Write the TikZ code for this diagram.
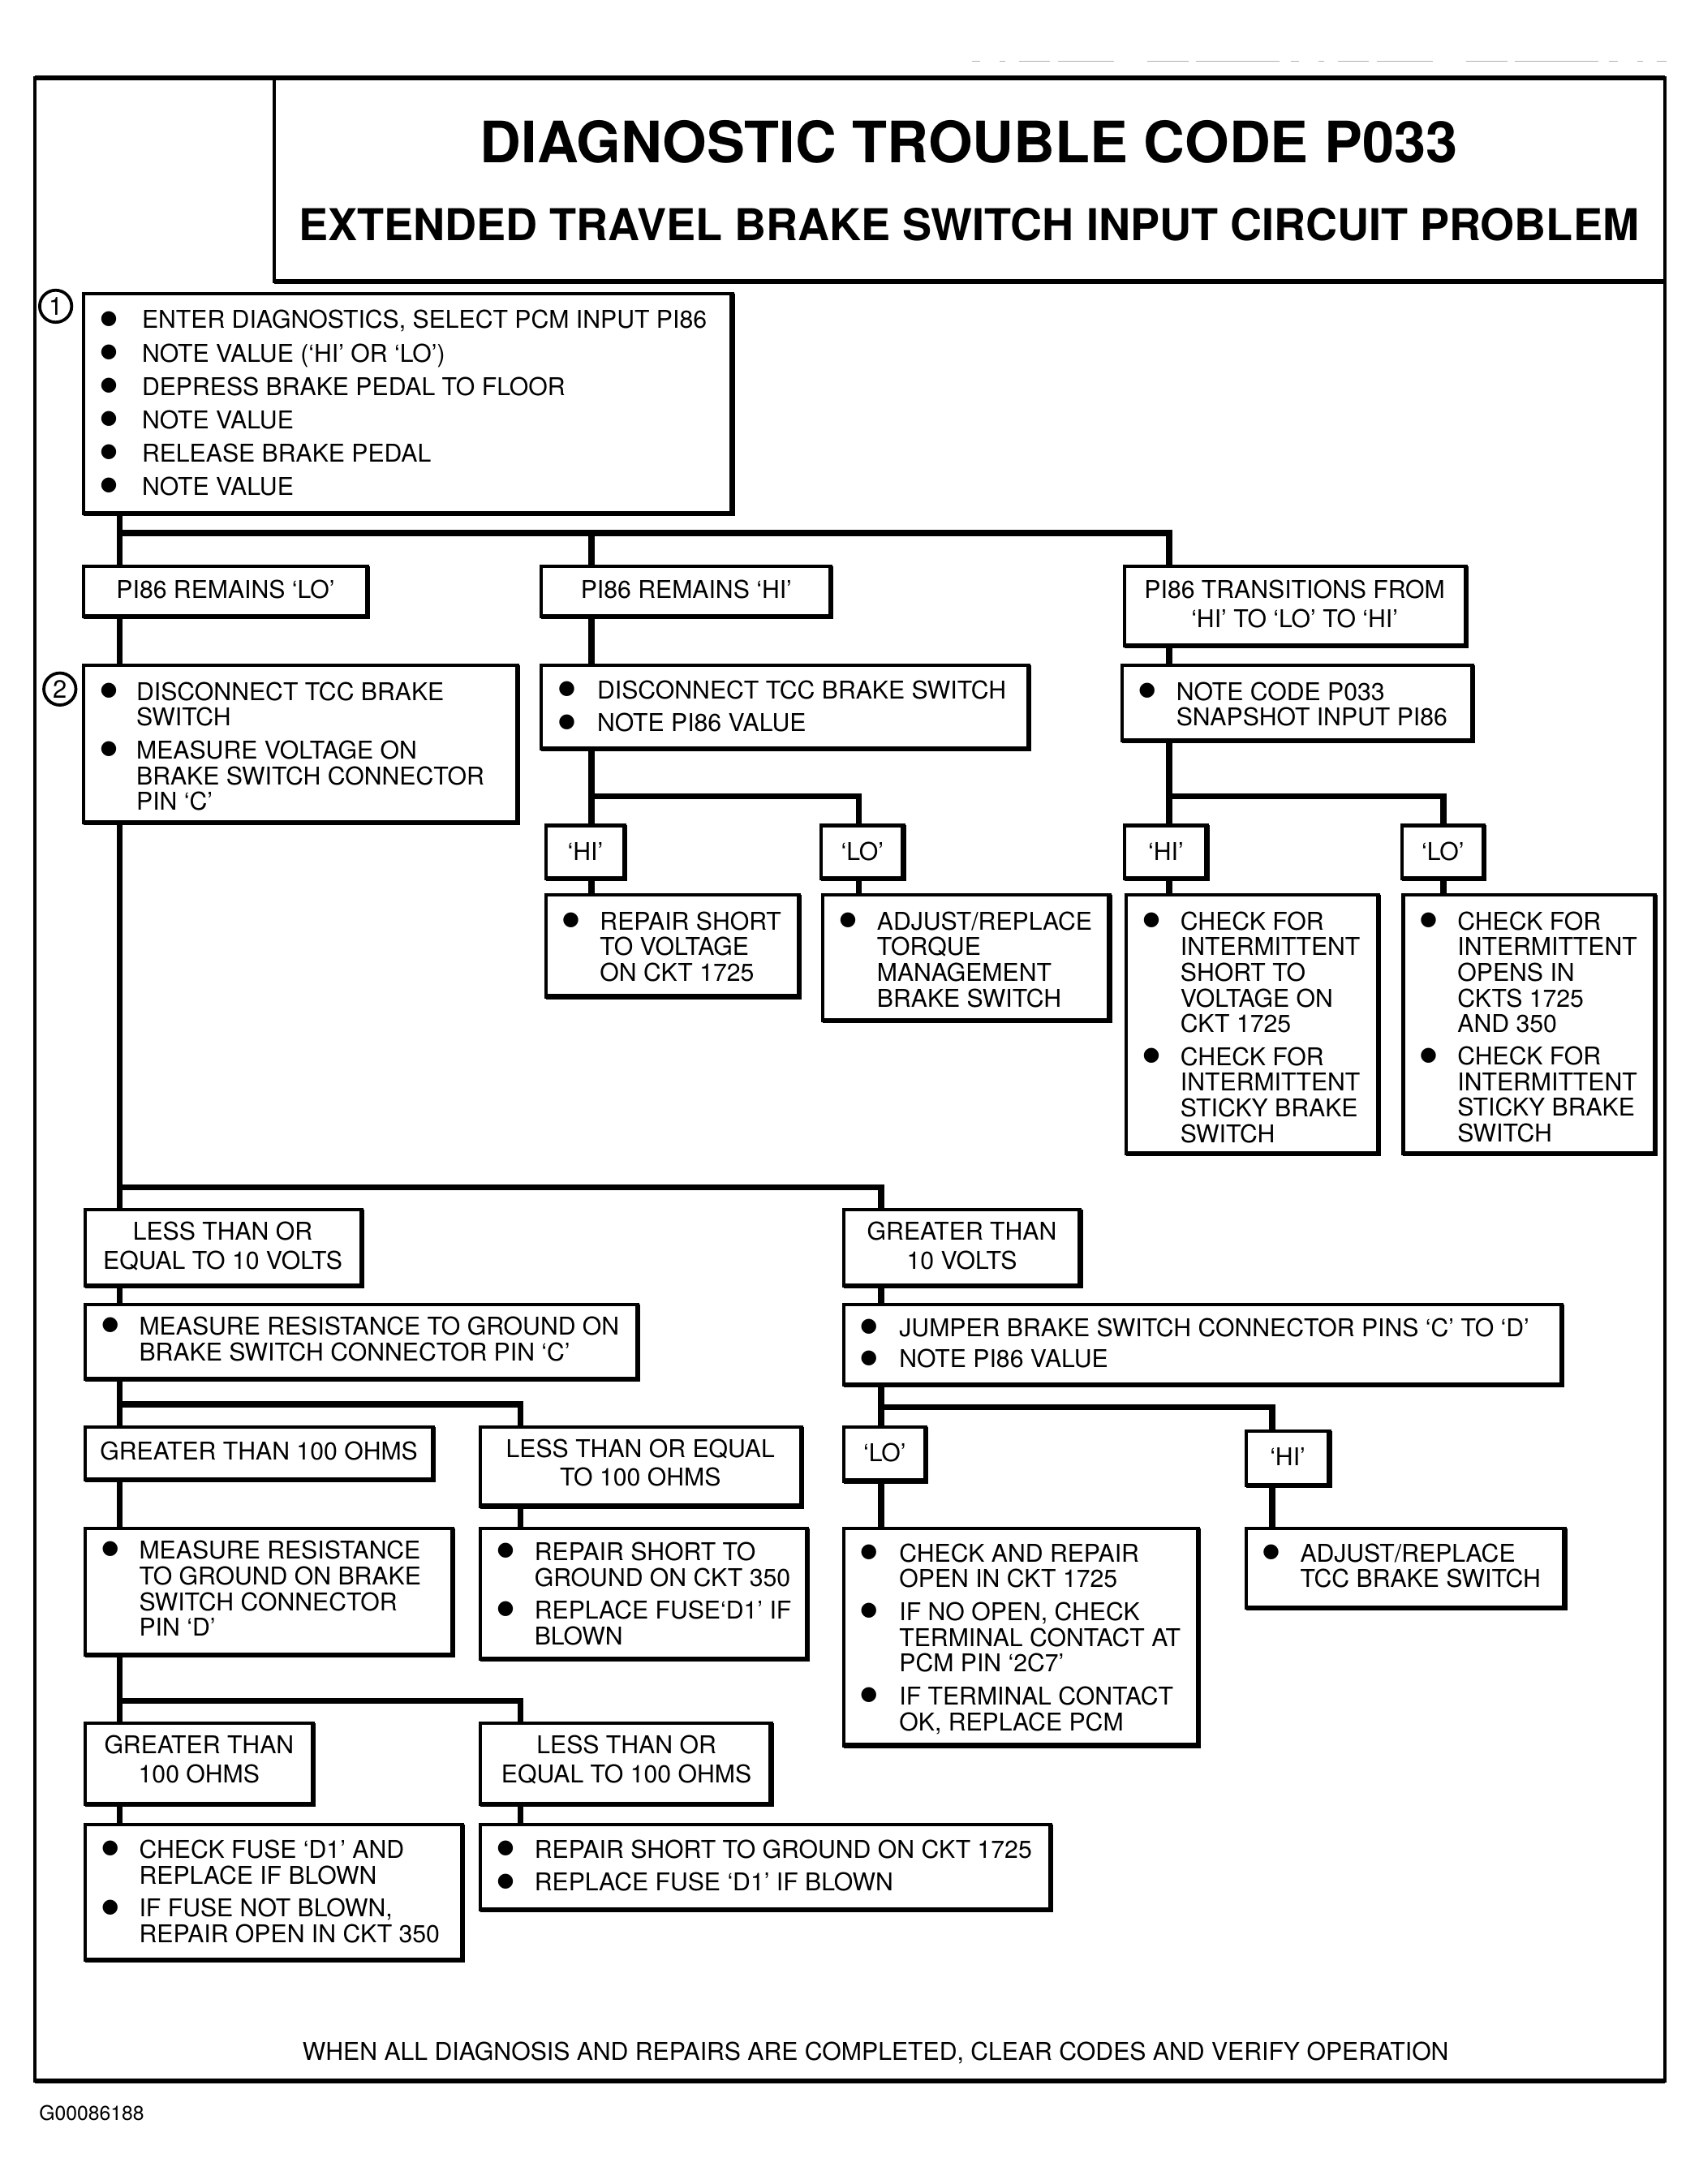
\documentclass[tikz,border=0pt]{standalone}
\usepackage{fontspec}
\setmainfont{TeX Gyre Heros}
\newfontfamily\symfont{DejaVu Sans}
\usepackage{array}
\tikzset{
  box/.style={draw, rectangle, line width=2.4pt, inner sep=0pt, outer sep=0pt, fill=white},
  shadowln/.style={line width=3.6pt, line join=miter},
  conn/.style={line width=4.4pt, line join=miter},
  txt/.style={inner sep=0pt, outer sep=0pt, font=\fontsize{17.6}{18}\selectfont},
  numcirc/.style={circle, draw, line width=2.2pt, minimum size=23pt, inner sep=0pt, font=\fontsize{18}{18}\selectfont},
}
\newcommand{\bx}[5]{%
  \node[box, minimum width={#4-#2}, minimum height={#5-#3}, anchor=north west] (#1) at (#2,#3) {};
  \draw[shadowln] (#1.north east) -- (#1.south east) -- (#1.south west);
}
\newcommand{\bt}[5]{%
  \node[txt, anchor=base west] (#1) at (#2,#3) {\begin{tabular}[t]{@{}p{#4pt}@{}l@{}}#5\end{tabular}};
}
\newcommand{\lb}[4]{%
  \node[txt, anchor=base] (#1) at (#2,#3) {\begin{tabular}[t]{@{}c@{}}#4\end{tabular}};
}
\newcommand{\bu}{\raisebox{3.3pt}{\symfont\fontsize{14}{14}\selectfont ●}}
\begin{document}
\begin{tikzpicture}[x=1pt,y=-1pt]
\useasboundingbox (0,0) rectangle (1220,1569);

% scan line above frame
\draw[gray!60, line width=1pt, dash pattern=on 6pt off 14pt on 4pt off 10pt on 22pt off 6pt on 40pt off 24pt on 30pt off 5pt on 60pt off 8pt]
  (698,44) -- (1197,44);

% outer frame and title box
\node[draw, rectangle, line width=2.4pt, inner sep=0pt, outer sep=0pt, minimum width=1171, minimum height=1439, anchor=north west] (frame) at (25,56) {};
\draw[line width=3.6pt] (frame.north west) -- (frame.north east);
\draw[line width=3.6pt] (frame.south west) -- (frame.south east);
\node[draw, rectangle, line width=2.4pt, inner sep=0pt, outer sep=0pt, minimum width=999, minimum height=146, anchor=north west] (titlebox) at (197,56) {};
\draw[line width=3.4pt] (titlebox.south west) -- (titlebox.south east);
\node[inner sep=0pt, anchor=base, font=\bfseries\fontsize{41}{41}\selectfont] (title) at (696,117) {DIAGNOSTIC TROUBLE CODE P033};
\node[inner sep=0pt, anchor=base, font=\bfseries\fontsize{31.5}{31.5}\selectfont] (subtitle) at (696,173) {EXTENDED TRAVEL BRAKE SWITCH INPUT CIRCUIT PROBLEM};

% junction coordinates
\coordinate (j1) at (86,383);
\coordinate (j1b) at (425,383);
\coordinate (j1c) at (840,383);
\coordinate (jh) at (425,572);
\coordinate (jhb) at (617,572);
\coordinate (jt) at (840,572);
\coordinate (jtb) at (1037,572);
\coordinate (j2) at (86,853);
\coordinate (j2b) at (633,853);
\coordinate (j3) at (86,1009);
\coordinate (j3b) at (374,1009);
\coordinate (j4) at (633,1011);
\coordinate (j4b) at (914,1011);
\coordinate (j5) at (86,1222);
\coordinate (j5b) at (374,1222);

% boxes
\bx{boxa}{60}{211}{526}{369}
\bx{loP}{60}{407}{264}{443}
\bx{hiP}{389}{407}{597}{443}
\bx{trP}{808}{407}{1053}{464}
\bx{boxb}{60}{478}{372}{591}
\bx{hiT}{389}{478}{739}{538}
\bx{trT}{806}{478}{1058}{532}
\bx{hiA}{392}{593}{449}{631}
\bx{loA}{590}{593}{649}{631}
\bx{hiB}{808}{593}{867}{631}
\bx{loB}{1007}{593}{1066}{631}
\bx{repA}{392}{643}{574}{716}
\bx{adjA}{591}{643}{797}{733}
\bx{chkB}{809}{643}{990}{829}
\bx{chkC}{1008}{643}{1189}{829}
\bx{ltten}{61}{869}{260}{924}
\bx{gtten}{606}{869}{776}{924}
\bx{measC}{61}{937}{458}{991}
\bx{jump}{606}{937}{1122}{995}
\bx{gtoh}{61}{1025}{311}{1063}
\bx{leoh}{345}{1025}{576}{1082}
\bx{loC}{606}{1025}{665}{1064}
\bx{hiC}{895}{1028}{955}{1067}
\bx{measD}{61}{1098}{325}{1189}
\bx{repB}{345}{1098}{580}{1192}
\bx{chkD}{606}{1098}{861}{1254}
\bx{adjB}{895}{1098}{1124}{1155}
\bx{gtohb}{61}{1238}{225}{1296}
\bx{leohb}{345}{1238}{554}{1296}
\bx{chkE}{61}{1311}{332}{1408}
\bx{repC}{345}{1311}{755}{1372}

% connectors
\draw[conn] (boxa.south -| j1) -- (loP.north -| j1);
\draw[conn] (j1) -- (j1c) -- (trP.north -| j1c);
\draw[conn] (j1b) -- (hiP.north -| j1b);
\draw[conn] (loP.south -| j1) -- (boxb.north -| j1);
\draw[conn] (hiP.south -| j1b) -- (hiT.north -| j1b);
\draw[conn] (trP.south -| j1c) -- (trT.north -| j1c);
\draw[conn] (hiT.south -| jh) -- (hiA.north -| jh);
\draw[conn] (jh) -- (jhb) -- (loA.north -| jhb);
\draw[conn] (hiA.south -| jh) -- (repA.north -| jh);
\draw[conn] (loA.south -| jhb) -- (adjA.north -| jhb);
\draw[conn] (trT.south -| jt) -- (hiB.north -| jt);
\draw[conn] (jt) -- (jtb) -- (loB.north -| jtb);
\draw[conn] (hiB.south -| jt) -- (chkB.north -| jt);
\draw[conn] (loB.south -| jtb) -- (chkC.north -| jtb);
\draw[conn] (boxb.south -| j2) -- (ltten.north -| j2);
\draw[conn] (j2) -- (j2b) -- (gtten.north -| j2b);
\draw[conn] (ltten.south -| j3) -- (measC.north -| j3);
\draw[conn] (measC.south -| j3) -- (gtoh.north -| j3);
\draw[conn] (j3) -- (j3b) -- (leoh.north -| j3b);
\draw[conn] (gtoh.south -| j3) -- (measD.north -| j3);
\draw[conn] (leoh.south -| j3b) -- (repB.north -| j3b);
\draw[conn] (measD.south -| j5) -- (gtohb.north -| j5);
\draw[conn] (j5) -- (j5b) -- (leohb.north -| j5b);
\draw[conn] (gtohb.south -| j5) -- (chkE.north -| j5);
\draw[conn] (leohb.south -| j5b) -- (repC.north -| j5b);
\draw[conn] (gtten.south -| j4) -- (jump.north -| j4);
\draw[conn] (jump.south -| j4) -- (loC.north -| j4);
\draw[conn] (j4) -- (j4b) -- (hiC.north -| j4b);
\draw[conn] (loC.south -| j4) -- (chkD.north -| j4);
\draw[conn] (hiC.south -| j4b) -- (adjB.north -| j4b);

% numbered circles
\node[numcirc] (cone) at (40,220) {1};
\node[numcirc] (ctwo) at (43,495) {2};

% bulleted texts
\bt{tboxa}{72}{236}{30}{\bu & ENTER DIAGNOSTICS, SELECT PCM INPUT PI86\\[5.4pt]
\bu & NOTE VALUE (`HI' OR `LO')\\[5.4pt]
\bu & DEPRESS BRAKE PEDAL TO FLOOR\\[5.4pt]
\bu & NOTE VALUE\\[5.4pt]
\bu & RELEASE BRAKE PEDAL\\[5.4pt]
\bu & NOTE VALUE}
\bt{tboxb}{72}{503}{26}{\bu & DISCONNECT TCC BRAKE\\ & SWITCH\\[5pt]
\bu & MEASURE VOLTAGE ON\\ & BRAKE SWITCH CONNECTOR\\ & PIN `C'}
\bt{thiT}{401}{502}{28}{\bu & DISCONNECT TCC BRAKE SWITCH\\[5pt]
\bu & NOTE PI86 VALUE}
\bt{ttrT}{818}{503}{27}{\bu & NOTE CODE P033\\ & SNAPSHOT INPUT PI86}
\bt{trepA}{404}{668}{27}{\bu & REPAIR SHORT\\ & TO VOLTAGE\\ & ON CKT 1725}
\bt{tadjA}{603}{668}{27}{\bu & ADJUST/REPLACE\\ & TORQUE\\ & MANAGEMENT\\ & BRAKE SWITCH}
\bt{tchkB}{821}{668}{27}{\bu & CHECK FOR\\ & INTERMITTENT\\ & SHORT TO\\ & VOLTAGE ON\\ & CKT 1725\\[5pt]
\bu & CHECK FOR\\ & INTERMITTENT\\ & STICKY BRAKE\\ & SWITCH}
\bt{tchkC}{1020}{668}{27}{\bu & CHECK FOR\\ & INTERMITTENT\\ & OPENS IN\\ & CKTS 1725\\ & AND 350\\[5pt]
\bu & CHECK FOR\\ & INTERMITTENT\\ & STICKY BRAKE\\ & SWITCH}
\bt{tmeasC}{73}{959}{27}{\bu & MEASURE RESISTANCE TO GROUND ON\\ & BRAKE SWITCH CONNECTOR PIN `C'}
\bt{tjump}{618}{960}{28}{\bu & JUMPER BRAKE SWITCH CONNECTOR PINS `C' TO `D'\\[4pt]
\bu & NOTE PI86 VALUE}
\bt{tmeasD}{73}{1120}{27}{\bu & MEASURE RESISTANCE\\ & TO GROUND ON BRAKE\\ & SWITCH CONNECTOR\\ & PIN `D'}
\bt{trepB}{357}{1121}{27}{\bu & REPAIR SHORT TO\\ & GROUND ON CKT 350\\[5pt]
\bu & REPLACE FUSE`D1' IF\\ & BLOWN}
\bt{tchkD}{618}{1122}{28}{\bu & CHECK AND REPAIR\\ & OPEN IN CKT 1725\\[5pt]
\bu & IF NO OPEN, CHECK\\ & TERMINAL CONTACT AT\\ & PCM PIN `2C7'\\[5pt]
\bu & IF TERMINAL CONTACT\\ & OK, REPLACE PCM}
\bt{tadjB}{907}{1122}{27}{\bu & ADJUST/REPLACE\\ & TCC BRAKE SWITCH}
\bt{tchkE}{73}{1335}{27}{\bu & CHECK FUSE `D1' AND\\ & REPLACE IF BLOWN\\[5pt]
\bu & IF FUSE NOT BLOWN,\\ & REPAIR OPEN IN CKT 350}
\bt{trepC}{357}{1335}{27}{\bu & REPAIR SHORT TO GROUND ON CKT 1725\\[5pt]
\bu & REPLACE FUSE `D1' IF BLOWN}

% centred labels
\lb{tloP}{162}{430}{PI86 REMAINS `LO'}
\lb{thiP}{493}{430}{PI86 REMAINS `HI'}
\lb{ttrP}{930}{430}{PI86 TRANSITIONS FROM\\[2pt] `HI' TO `LO' TO `HI'}
\lb{thiA}{420.5}{618}{`HI'}
\lb{tloA}{619.5}{618}{`LO'}
\lb{thiB}{837.5}{618}{`HI'}
\lb{tloB}{1036.5}{618}{`LO'}
\lb{tltten}{160}{891}{LESS THAN OR\\[2pt] EQUAL TO 10 VOLTS}
\lb{tgtten}{691}{891}{GREATER THAN\\[2pt] 10 VOLTS}
\lb{tgtoh}{186}{1049}{GREATER THAN 100 OHMS}
\lb{tleoh}{460}{1047}{LESS THAN OR EQUAL\\[2pt] TO 100 OHMS}
\lb{tloC}{635.5}{1050}{`LO'}
\lb{thiC}{925}{1053}{`HI'}
\lb{tgtohb}{143}{1260}{GREATER THAN\\[2pt] 100 OHMS}
\lb{tleohb}{450}{1260}{LESS THAN OR\\[2pt] EQUAL TO 100 OHMS}

% footer
\lb{foot}{629}{1480}{WHEN ALL DIAGNOSIS AND REPAIRS ARE COMPLETED, CLEAR CODES AND VERIFY OPERATION}
\node[inner sep=0pt, anchor=base west, font=\fontsize{14.4}{15}\selectfont] (code) at (28,1523) {G00086188};
\end{tikzpicture}
\end{document}
